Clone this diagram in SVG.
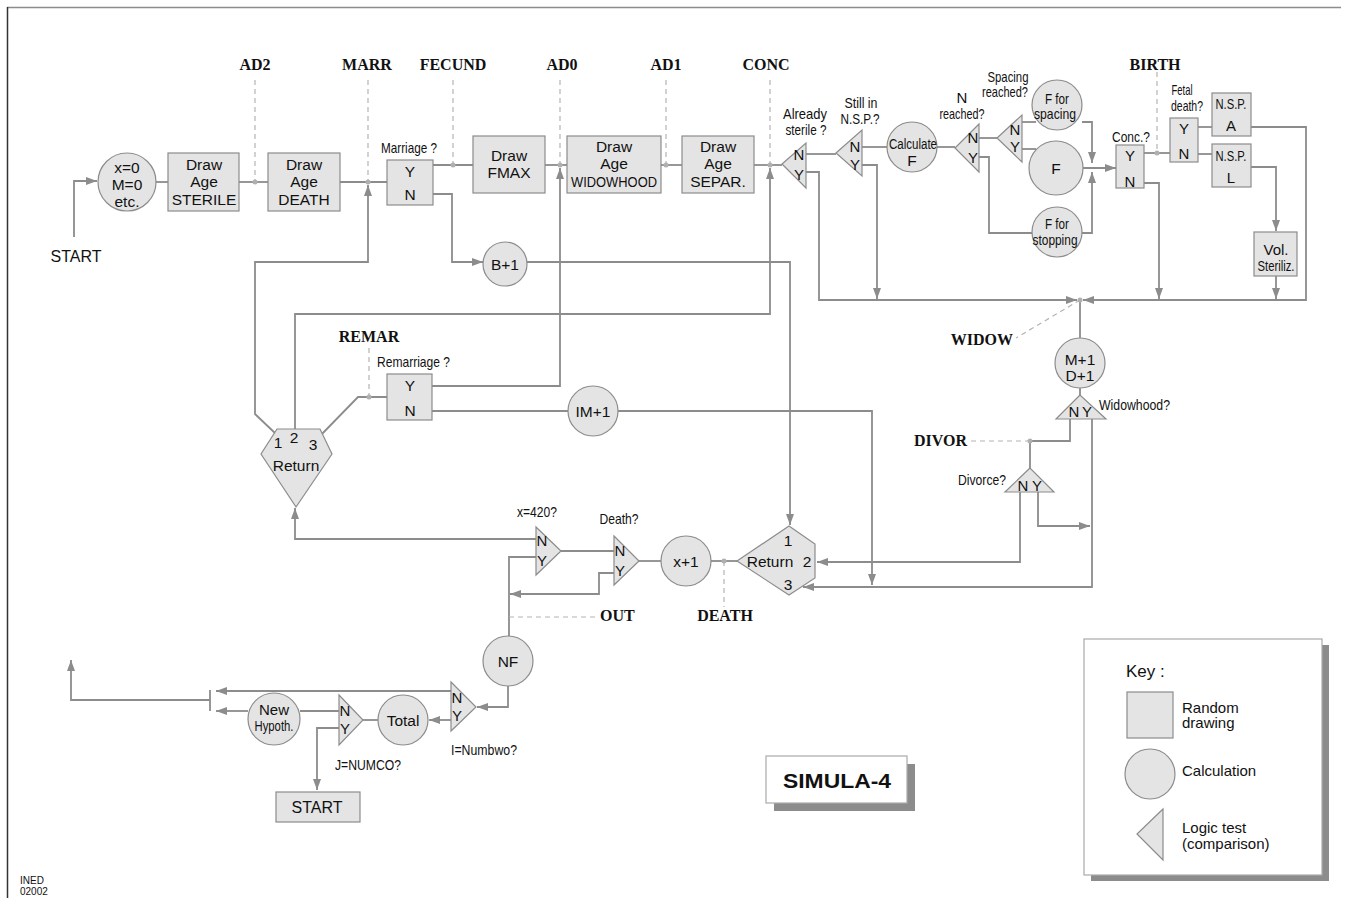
<svg xmlns="http://www.w3.org/2000/svg" width="1349" height="898" viewBox="0 0 1349 898">
<defs>
<marker id="ah" markerUnits="userSpaceOnUse" markerWidth="12" markerHeight="10" refX="11" refY="4" orient="auto"><path d="M0,0 L11,4 L0,8 z" fill="#8c8c8c"/></marker>
<style>
.n{fill:#e4e4e4;stroke:#8c8c8c;stroke-width:1.2}
.c{fill:none;stroke:#8c8c8c;stroke-width:1.8}
.a{marker-end:url(#ah)}
.d{fill:none;stroke:#b4b4b4;stroke-width:1.2;stroke-dasharray:5 4}
.dot{fill:#b0b0b0}
text{font-family:"Liberation Sans",Arial,sans-serif;fill:#111}
.t{font-size:15.5px;text-anchor:middle}
.s{font-size:15px;text-anchor:middle}
.q{font-size:15px}
.m{font-size:15px;text-anchor:middle}
.b{font-family:"Liberation Serif","Times New Roman",serif;font-weight:bold;font-size:16px}
.bm{font-family:"Liberation Serif","Times New Roman",serif;font-weight:bold;font-size:16px;text-anchor:middle}
.be{font-family:"Liberation Serif","Times New Roman",serif;font-weight:bold;font-size:16px;text-anchor:end}
</style>
</defs>
<rect width="1349" height="898" fill="#fff"/>
<g id="frame"><line x1="7" y1="7.5" x2="1341" y2="7.5" stroke="#8c8c8c" stroke-width="1.5"/><line x1="7.5" y1="7" x2="7.5" y2="898" stroke="#333" stroke-width="1.5"/></g>

<g id="connectors">
<path class="c a" d="M74,237 V181 H97"/>
<path class="c" d="M156,182 H168"/>
<path class="c" d="M239,182 H268"/>
<path class="c" d="M340,182 H387"/>
<path class="c" d="M433,165 H473"/>
<path class="c" d="M545,165 H567"/>
<path class="c" d="M661,165 H682"/>
<path class="c" d="M754,165 H782"/>
<path class="c" d="M806,154 H836"/>
<path class="c a" d="M806,172 H819 V300 H1077"/>
<path class="c" d="M862,147 H887"/>
<path class="c a" d="M862,165 H877 V299"/>
<path class="c" d="M937,147 H955"/>
<path class="c" d="M979,138 H997"/>
<path class="c" d="M979,157 H989 V233 H1032"/>
<path class="c" d="M1022,122 H1036"/>
<path class="c" d="M1022,149 H1036"/>
<path class="c a" d="M1082,122 H1092 V163"/>
<path class="c a" d="M1083,168 H1116"/>
<path class="c a" d="M1082,233 H1092 V172"/>
<path class="c" d="M1144,153 H1170"/>
<path class="c a" d="M1144,183 H1159 V299"/>
<path class="c" d="M1198,127 H1212"/>
<path class="c" d="M1198,154 H1212"/>
<path class="c a" d="M1251,127 H1306 V300 H1083"/>
<path class="c a" d="M1251,167 H1276 V231"/>
<path class="c a" d="M1276,276 V299"/>
<path class="c" d="M1080,300 V338"/>
<path class="c" d="M1080,388 V395"/>
<path class="c" d="M1070,419 V441 H1030 V468"/>
<path class="c a" d="M1038,492 V526 H1090"/>
<path class="c a" d="M1020,492 V562 H817"/>
<path class="c a" d="M1092,419 V587 H803"/>
<path class="c a" d="M618,411 H872 V585"/>
<path class="c" d="M432,411 H568"/>
<path class="c a" d="M432,386 H560 V168"/>
<path class="c a" d="M295,429 V314 H770 V168"/>
<path class="c a" d="M276,434 L255,414 V262 H368 V185"/>
<path class="c" d="M320,436 L358,397 H387"/>
<path class="c a" d="M433,194 H452 V262 H483"/>
<path class="c a" d="M527,262 H790 V525"/>
<path class="c a" d="M536,539 H295 V508"/>
<path class="c" d="M536,557 H509 V636"/>
<path class="c" d="M561,551 H614"/>
<path class="c a" d="M614,573 H599 V594 H510"/>
<path class="c" d="M639,561 H661"/>
<path class="c" d="M711,561 H737"/>
<path class="c a" d="M508,686 V707 H477"/>
<path class="c a" d="M451,691 H216"/>
<path class="c a" d="M451,720 H429"/>
<path class="c" d="M378,720 H363"/>
<path class="c" d="M339,711 H300"/>
<path class="c a" d="M248,711 H216"/>
<path class="c" d="M210,690 V711"/>
<path class="c a" d="M210,700 H71 V660"/>
<path class="c a" d="M339,728 H317 V790"/>
</g>

<g id="markers">
<path class="d" d="M255,80 V182 M368,80 V182 M453,80 V165 M560,80 V165 M666,80 V165 M770,80 V165 M1157,72 V153 M369,348 V397 M1080,300 L1016,338 M1030,441 H970 M724,561 V607 M509,617 H598"/>
<circle class="dot" cx="255" cy="182" r="2.5"/><circle class="dot" cx="368" cy="182" r="2.5"/><circle class="dot" cx="453" cy="165" r="2.5"/><circle class="dot" cx="560" cy="165" r="2.5"/><circle class="dot" cx="666" cy="165" r="2.5"/><circle class="dot" cx="770" cy="165" r="2.5"/><circle class="dot" cx="1157" cy="153" r="2.5"/><circle class="dot" cx="369" cy="397" r="2.5"/><circle class="dot" cx="1080" cy="300" r="2.5"/><circle class="dot" cx="1030" cy="441" r="2.5"/><circle class="dot" cx="724" cy="561" r="2.5"/>
<text class="bm" x="255" y="70">AD2</text>
<text class="bm" x="367" y="70">MARR</text>
<text class="bm" x="453" y="70">FECUND</text>
<text class="bm" x="562" y="70">AD0</text>
<text class="bm" x="666" y="70">AD1</text>
<text class="bm" x="766" y="70">CONC</text>
<text class="bm" x="1155" y="70">BIRTH</text>
<text class="bm" x="369" y="342">REMAR</text>
<text class="be" x="1013" y="345">WIDOW</text>
<text class="be" x="967" y="446">DIVOR</text>
<text class="b" x="600" y="621">OUT</text>
<text class="bm" x="725" y="621">DEATH</text>
</g>

<g id="start-label"><text x="76" y="262" style="font-size:16px;text-anchor:middle">START</text></g>

<g id="init"><circle class="n" cx="127" cy="182" r="29"/><text class="t" x="127" y="173">x=0</text><text class="t" x="127" y="190">M=0</text><text class="t" x="127" y="207">etc.</text></g>
<g id="sterile"><rect class="n" x="168" y="153" width="71" height="58"/><text class="t" x="204" y="170">Draw</text><text class="t" x="204" y="187">Age</text><text class="t" x="204" y="205">STERILE</text></g>
<g id="death"><rect class="n" x="268" y="153" width="72" height="58"/><text class="t" x="304" y="170">Draw</text><text class="t" x="304" y="187">Age</text><text class="t" x="304" y="205">DEATH</text></g>
<g id="marriage"><rect class="n" x="387" y="160" width="46" height="45"/><text class="t" x="410" y="177">Y</text><text class="t" x="410" y="200">N</text><text class="q" x="381" y="153" textLength="56" lengthAdjust="spacingAndGlyphs">Marriage ?</text></g>
<g id="fmax"><rect class="n" x="473" y="136" width="72" height="57"/><text class="t" x="509" y="161">Draw</text><text class="t" x="509" y="178">FMAX</text></g>
<g id="widowhood"><rect class="n" x="567" y="136" width="94" height="57"/><text class="t" x="614" y="152">Draw</text><text class="t" x="614" y="169">Age</text><text class="t" x="614" y="187" textLength="86" lengthAdjust="spacingAndGlyphs">WIDOWHOOD</text></g>
<g id="separ"><rect class="n" x="682" y="136" width="72" height="57"/><text class="t" x="718" y="152">Draw</text><text class="t" x="718" y="169">Age</text><text class="t" x="718" y="187">SEPAR.</text></g>
<g id="already"><path class="n" d="M782,164 L806,143 L806,188 Z"/><text class="s" x="799" y="160">N</text><text class="s" x="799" y="180">Y</text><text class="m" x="805" y="119" textLength="44" lengthAdjust="spacingAndGlyphs">Already</text><text class="m" x="806" y="135" textLength="41" lengthAdjust="spacingAndGlyphs">sterile ?</text></g>
<g id="stillnsp"><path class="n" d="M836,153 L862,130 L862,176 Z"/><text class="s" x="855" y="152">N</text><text class="s" x="855" y="170">Y</text><text class="m" x="861" y="108" textLength="33" lengthAdjust="spacingAndGlyphs">Still in</text><text class="m" x="860" y="124" textLength="39" lengthAdjust="spacingAndGlyphs">N.S.P.?</text></g>
<g id="calcf"><circle class="n" cx="912" cy="147" r="25"/><text class="t" x="913" y="149" textLength="48" lengthAdjust="spacingAndGlyphs">Calculate</text><text class="t" x="912" y="166">F</text></g>
<g id="nreached"><path class="n" d="M955,148 L979,124 L979,172 Z"/><text class="s" x="973" y="143">N</text><text class="s" x="973" y="163">Y</text><text class="m" x="962" y="103">N</text><text class="m" x="962" y="119" textLength="45" lengthAdjust="spacingAndGlyphs">reached?</text></g>
<g id="spacing"><path class="n" d="M997,138 L1022,115 L1022,162 Z"/><text class="s" x="1015" y="135">N</text><text class="s" x="1015" y="152">Y</text><text class="m" x="1008" y="82" textLength="41" lengthAdjust="spacingAndGlyphs">Spacing</text><text class="m" x="1005" y="97" textLength="46" lengthAdjust="spacingAndGlyphs">reached?</text></g>
<g id="fspacing"><circle class="n" cx="1057" cy="105" r="25"/><text class="m" x="1057" y="104" textLength="24" lengthAdjust="spacingAndGlyphs">F for</text><text class="m" x="1055" y="119" textLength="42" lengthAdjust="spacingAndGlyphs">spacing</text></g>
<g id="f"><circle class="n" cx="1056" cy="168" r="27"/><text class="t" x="1056" y="174">F</text></g>
<g id="fstopping"><circle class="n" cx="1057" cy="232" r="25"/><text class="m" x="1057" y="229" textLength="24" lengthAdjust="spacingAndGlyphs">F for</text><text class="m" x="1055" y="245" textLength="45" lengthAdjust="spacingAndGlyphs">stopping</text></g>
<g id="conc"><rect class="n" x="1116" y="145" width="28" height="43"/><text class="s" x="1130" y="161">Y</text><text class="s" x="1130" y="187">N</text><text class="m" x="1131" y="142" textLength="38" lengthAdjust="spacingAndGlyphs">Conc.?</text></g>
<g id="fetal"><rect class="n" x="1170" y="118" width="28" height="44"/><text class="s" x="1184" y="134">Y</text><text class="s" x="1184" y="159">N</text><text class="m" x="1182" y="95" textLength="21" lengthAdjust="spacingAndGlyphs">Fetal</text><text class="m" x="1187" y="111" textLength="32" lengthAdjust="spacingAndGlyphs">death?</text></g>
<g id="nspa"><rect class="n" x="1212" y="93" width="39" height="43"/><text class="m" x="1231" y="109" textLength="31" lengthAdjust="spacingAndGlyphs">N.S.P.</text><text class="s" x="1231" y="131">A</text></g>
<g id="nspl"><rect class="n" x="1212" y="144" width="39" height="43"/><text class="m" x="1231" y="161" textLength="31" lengthAdjust="spacingAndGlyphs">N.S.P.</text><text class="s" x="1231" y="183">L</text></g>
<g id="vol"><rect class="n" x="1254" y="232" width="43" height="44"/><text class="m" x="1276" y="255">Vol.</text><text class="m" x="1276" y="271" textLength="37" lengthAdjust="spacingAndGlyphs">Steriliz.</text></g>
<g id="md"><circle class="n" cx="1080" cy="363" r="25"/><text class="t" x="1080" y="365">M+1</text><text class="t" x="1080" y="381">D+1</text></g>
<g id="widowq"><path class="n" d="M1080,395 L1056,419 L1106,419 Z"/><text class="s" x="1074" y="417">N</text><text class="s" x="1087" y="417">Y</text><text class="q" x="1099" y="410" textLength="71" lengthAdjust="spacingAndGlyphs">Widowhood?</text></g>
<g id="divorce"><path class="n" d="M1030,468 L1005,492 L1054,492 Z"/><text class="s" x="1023" y="491">N</text><text class="s" x="1037" y="491">Y</text><text class="q" x="958" y="485" textLength="48" lengthAdjust="spacingAndGlyphs">Divorce?</text></g>
<g id="im1"><circle class="n" cx="593" cy="411" r="25"/><text class="t" x="593" y="417">IM+1</text></g>
<g id="remarriage"><rect class="n" x="387" y="374" width="45" height="46"/><text class="t" x="410" y="391">Y</text><text class="t" x="410" y="416">N</text><text class="q" x="377" y="367" textLength="73" lengthAdjust="spacingAndGlyphs">Remarriage ?</text></g>
<g id="b1"><circle class="n" cx="505" cy="264" r="22"/><text class="t" x="505" y="270">B+1</text></g>
<g id="return-left"><path class="n" d="M277,429 L320,429 L332,454 L296,507 L261,454 Z"/><text class="t" x="278" y="448">1</text><text class="t" x="294" y="443">2</text><text class="t" x="313" y="450">3</text><text class="t" x="296" y="471">Return</text></g>
<g id="return-right"><path class="n" d="M737,561 L789,526 L815,544 L815,578 L789,595 Z"/><text class="t" x="788" y="546">1</text><text class="t" x="770" y="567">Return</text><text class="t" x="807" y="567">2</text><text class="t" x="788" y="590">3</text></g>
<g id="x420"><path class="n" d="M536,527 L561,551 L536,575 Z"/><text class="s" x="542" y="546">N</text><text class="s" x="542" y="566">Y</text><text class="m" x="537" y="517" textLength="40" lengthAdjust="spacingAndGlyphs">x=420?</text></g>
<g id="deathq"><path class="n" d="M614,536 L639,561 L614,585 Z"/><text class="s" x="620" y="556">N</text><text class="s" x="620" y="576">Y</text><text class="m" x="619" y="524" textLength="39" lengthAdjust="spacingAndGlyphs">Death?</text></g>
<g id="x1"><circle class="n" cx="686" cy="561" r="25"/><text class="t" x="686" y="567">x+1</text></g>
<g id="nf"><circle class="n" cx="508" cy="661" r="25"/><text class="t" x="508" y="667">NF</text></g>
<g id="numbwo"><path class="n" d="M451,682 L476,707 L451,731 Z"/><text class="s" x="457" y="703">N</text><text class="s" x="457" y="721">Y</text><text class="q" x="451" y="755" textLength="66" lengthAdjust="spacingAndGlyphs">I=Numbwo?</text></g>
<g id="total"><circle class="n" cx="403" cy="720" r="25"/><text class="t" x="403" y="726">Total</text></g>
<g id="numco"><path class="n" d="M339,695 L363,720 L339,745 Z"/><text class="s" x="345" y="716">N</text><text class="s" x="345" y="734">Y</text><text class="q" x="335" y="770" textLength="66" lengthAdjust="spacingAndGlyphs">J=NUMCO?</text></g>
<g id="newhyp"><circle class="n" cx="274" cy="719" r="26"/><text class="m" x="274" y="715">New</text><text class="m" x="274" y="731" textLength="39" lengthAdjust="spacingAndGlyphs">Hypoth.</text></g>
<g id="start-box"><rect class="n" x="276" y="792" width="84" height="30"/><text x="317" y="813" style="font-size:16px;text-anchor:middle">START</text></g>

<g id="simula"><rect x="774" y="764" width="141" height="47" fill="#8c8c8c"/><rect x="766" y="756" width="141" height="47" fill="#fff" stroke="#aaa" stroke-width="1.2"/><text x="837" y="788" style="font-size:20px;font-weight:bold;text-anchor:middle" textLength="108" lengthAdjust="spacingAndGlyphs">SIMULA-4</text></g>

<g id="key"><rect x="1091" y="645" width="238" height="236" fill="#8c8c8c"/><rect x="1084" y="639" width="238" height="236" fill="#fff" stroke="#aaa" stroke-width="1.2"/>
<text x="1126" y="677" style="font-size:17px">Key :</text>
<rect class="n" x="1127" y="692" width="46" height="46"/>
<text x="1182" y="713" style="font-size:15px">Random</text><text x="1182" y="728" style="font-size:15px">drawing</text>
<circle class="n" cx="1150" cy="774" r="25"/>
<text x="1182" y="776" style="font-size:15px">Calculation</text>
<path class="n" d="M1163,809 L1137,834 L1163,860 Z"/>
<text x="1182" y="833" style="font-size:15px">Logic test</text><text x="1182" y="849" style="font-size:15px">(comparison)</text>
</g>

<g id="ined"><text x="20" y="884" style="font-size:10px">INED</text><text x="20" y="895" style="font-size:10px">02002</text></g>
</svg>
